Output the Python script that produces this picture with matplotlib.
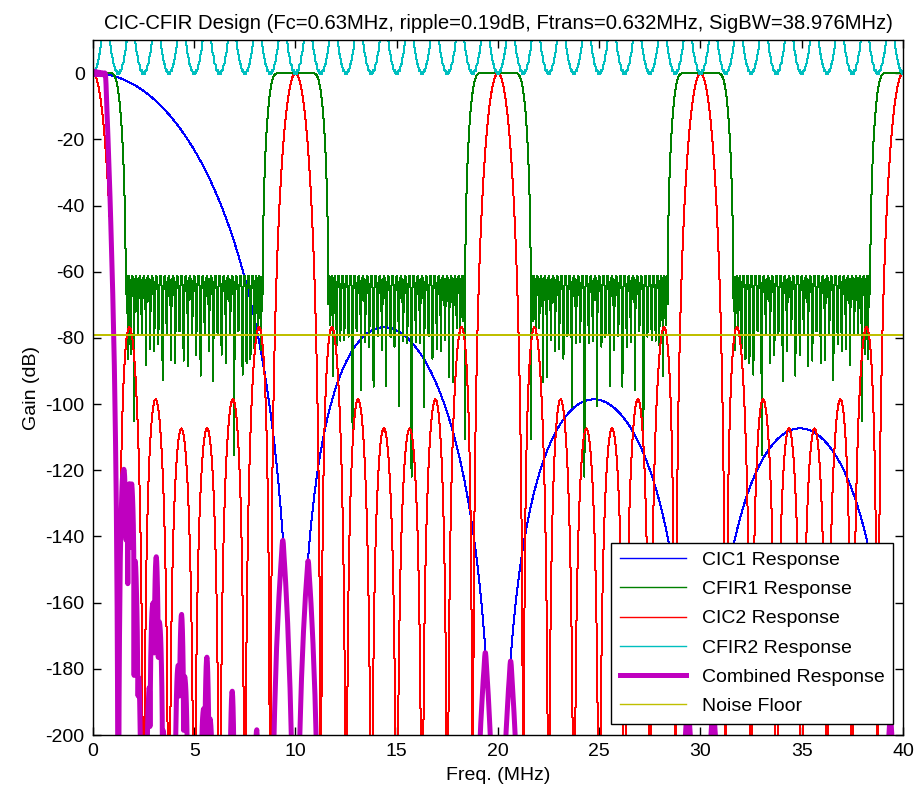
import numpy as np
import matplotlib
matplotlib.use('Agg')
import matplotlib.pyplot as plt

plt.rcParams['font.family'] = ['Liberation Sans', 'DejaVu Sans']
plt.rcParams['axes.unicode_minus'] = False

# decimation chain: CIC1 -> CFIR1 -> CIC2 -> CFIR2 (rates in MHz)
fs_in = 80.0
cic1_rate = 8
cic1_order = 6
cic2_rate = 8
cic2_order = 6
fs_mid = fs_in / cic1_rate        # CFIR1 / CIC2 input rate
fs_out = fs_mid / cic2_rate       # CFIR2 rate

# CFIR1 lowpass spec (at fs_mid)
cfir1_taps = 49
cfir1_fpass = 0.9
cfir1_fstop = 1.62
cfir1_wstop = 1.0

# CFIR2 droop compensator (at fs_out)
cfir2_taps = 25

noise_floor = -79.0
f_max = 40.0
n_points = 2048

labels = ['CIC1 Response', 'CFIR1 Response', 'CIC2 Response',
          'CFIR2 Response', 'Combined Response', 'Noise Floor']
title = ('CIC-CFIR Design (Fc=0.63MHz, ripple=0.19dB, '
         'Ftrans=0.632MHz, SigBW=38.976MHz)')


def cic_taps(R, N):
    h = np.ones(1)
    for _ in range(N):
        h = np.convolve(h, np.ones(R))
    return h / h.sum()


def freq_resp(h, f, fs):
    n = np.arange(len(h))
    return np.abs(np.exp(-2j * np.pi * np.outer(f / fs, n)) @ h)


def lowpass_minimax(ntaps, fp, fst, fs, wstop, iters=250):
    # Lawson's iteratively reweighted least squares -> near equiripple
    M = (ntaps - 1) // 2
    g = np.r_[np.linspace(0, fp, 120), np.linspace(fst, fs / 2, 700)] / fs
    d = np.r_[np.ones(120), np.zeros(700)]
    w = np.r_[np.ones(120), np.full(700, wstop)]
    C = np.cos(2 * np.pi * np.outer(g, np.arange(M + 1)))
    v = np.full(len(g), 1.0 / len(g))
    for _ in range(iters):
        s = np.sqrt(v) * w
        a = np.linalg.lstsq(C * s[:, None], d * s, rcond=None)[0]
        e = np.abs(w * (C @ a - d)) + 1e-15
        v = v * e
        v /= v.sum()
    return np.r_[a[:0:-1] / 2, a[0], a[1:] / 2]


def compensator(ntaps, fs, target):
    M = (ntaps - 1) // 2
    g = np.linspace(0, 0.5, 400)
    C = np.cos(2 * np.pi * np.outer(g, np.arange(M + 1)))
    a = np.linalg.lstsq(C, target(g * fs), rcond=None)[0]
    return np.r_[a[:0:-1] / 2, a[0], a[1:] / 2]


def db(x):
    return 20 * np.log10(np.maximum(x, 1e-20))


f = np.linspace(0, f_max, n_points)

h_cic1 = cic_taps(cic1_rate, cic1_order)
h_cic2 = cic_taps(cic2_rate, cic2_order)
h_cfir1 = lowpass_minimax(cfir1_taps, cfir1_fpass, cfir1_fstop, fs_mid, cfir1_wstop)
h_cfir2 = compensator(cfir2_taps, fs_out,
                      lambda x: 1.0 / freq_resp(h_cic2, x, fs_mid))

r_cic1 = freq_resp(h_cic1, f, fs_in)
r_cfir1 = freq_resp(h_cfir1, f, fs_mid)
r_cic2 = freq_resp(h_cic2, f, fs_mid)
r_cfir2 = freq_resp(h_cfir2, f, fs_out)
r_all = r_cic1 * r_cfir1 * r_cic2 * r_cfir2

fig = plt.figure(figsize=(9.16, 7.93), dpi=100)
ax = fig.add_axes([0.1015, 0.0731, 0.8843, 0.8764])

kw = dict(lw=0.72, antialiased=False)
ax.plot(f, db(r_cic1), color='#0000ff', label=labels[0], **kw)
ax.plot(f, db(r_cfir1), color='#008000', label=labels[1], **kw)
ax.plot(f, db(r_cic2), color='#ff0000', label=labels[2], **kw)
ax.plot(f, db(r_cfir2), color='#00bfbf', label=labels[3], **kw)
ax.plot(f, db(r_all), color='#bf00bf', lw=3.6, label=labels[4])
ax.plot(f, np.full_like(f, noise_floor), color='#bfbf00', label=labels[5], **kw)

ax.set_xlim(0, 40)
ax.set_ylim(-200, 10)
ax.set_xticks(np.arange(0, 41, 5))
ax.set_yticks(np.arange(-200, 1, 20))
ax.tick_params(direction='in', length=6, width=1, labelsize=14,
               top=True, right=True, pad=6)
for s in ax.spines.values():
    s.set_linewidth(1.0)

ax.set_xlabel('Freq. (MHz)', fontsize=14, labelpad=5)
ax.set_ylabel('Gain (dB)', fontsize=14, labelpad=4)
ax.set_title(title, fontsize=14.6, pad=8)

leg = ax.legend(loc='lower right', bbox_to_anchor=(0.9877, 0.0158),
                borderaxespad=0, fontsize=14, handlelength=3.4,
                labelspacing=0.6, borderpad=0.45,
                fancybox=False, framealpha=1, edgecolor='black')
leg.get_frame().set_linewidth(1.0)
for line in leg.get_lines():
    line.set_antialiased(True)
    if line.get_linewidth() < 1:
        line.set_linewidth(1.0)

fig.savefig('out.png', dpi=100)
